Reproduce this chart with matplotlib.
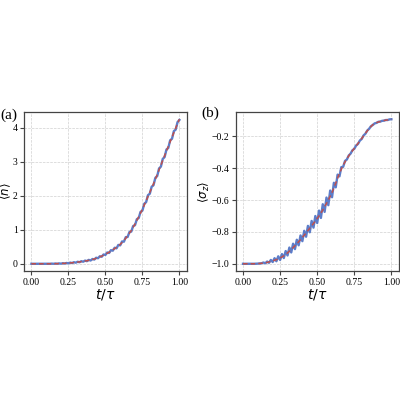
import matplotlib
matplotlib.use("Agg")
import matplotlib.pyplot as plt
import numpy as np

plt.rcParams['font.family'] = ['Liberation Serif', 'DejaVu Serif']
plt.rcParams['mathtext.fontset'] = 'dejavusans'

# time grids (t / tau)
t_fine = np.arange(81) * 0.0125
t_coarse = np.arange(41) * 0.025

# panel (a): <n>
n_exact = [0.000, 0.000, 0.000, 0.000, 0.000, 0.001, 0.002, 0.004, 0.008, 0.013,
           0.020, 0.030, 0.042, 0.056, 0.072, 0.090, 0.110, 0.140, 0.180, 0.225,
           0.280, 0.340, 0.410, 0.480, 0.570, 0.680, 0.820, 0.980, 1.170, 1.380,
           1.600, 1.850, 2.100, 2.350, 2.620, 2.900, 3.180, 3.450, 3.720, 3.990,
           4.250]
n_sim = [0.000, 0.000, 0.000, 0.000, 0.000, 0.000, 0.000, 0.000, 0.000, 0.001,
         0.000, 0.004, 0.000, 0.007, 0.001, 0.011, 0.003, 0.017, 0.006, 0.024,
         0.012, 0.034, 0.021, 0.046, 0.032, 0.060, 0.045, 0.076, 0.060, 0.094,
         0.077, 0.114, 0.096, 0.140, 0.124, 0.177, 0.163, 0.221, 0.206, 0.273,
         0.259, 0.333, 0.317, 0.400, 0.385, 0.472, 0.453, 0.554, 0.541, 0.656,
         0.649, 0.783, 0.787, 0.934, 0.946, 1.111, 1.134, 1.312, 1.343, 1.528,
         1.562, 1.764, 1.811, 2.015, 2.060, 2.266, 2.309, 2.527, 2.578, 2.803,
         2.857, 3.084, 3.136, 3.360, 3.405, 3.630, 3.675, 3.900, 3.945, 4.165,
         4.230]

# panel (b): <sigma_z>
sz_exact = [-1.000, -1.000, -1.000, -1.000, -0.999, -0.997, -0.994, -0.989, -0.982, -0.974,
            -0.964, -0.950, -0.932, -0.910, -0.887, -0.862, -0.835, -0.806, -0.777, -0.747,
            -0.716, -0.682, -0.642, -0.600, -0.552, -0.494, -0.432, -0.381, -0.340, -0.305,
            -0.275, -0.244, -0.213, -0.180, -0.150, -0.126, -0.113, -0.106, -0.100, -0.096,
            -0.092]
sz_sim = [-1.000, -1.000, -1.000, -1.000, -1.000, -1.000, -1.000, -0.9995, -0.999, -0.998,
          -0.997, -0.992, -0.997, -0.986, -0.994, -0.976, -0.989, -0.965, -0.984, -0.953,
          -0.976, -0.939, -0.964, -0.920, -0.948, -0.898, -0.929, -0.874, -0.908, -0.849,
          -0.884, -0.822, -0.858, -0.793, -0.830, -0.762, -0.802, -0.731, -0.773, -0.700,
          -0.744, -0.666, -0.712, -0.626, -0.674, -0.584, -0.632, -0.540, -0.582, -0.491,
          -0.520, -0.440, -0.451, -0.393, -0.391, -0.354, -0.345, -0.320, -0.308, -0.287,
          -0.278, -0.257, -0.247, -0.226, -0.216, -0.194, -0.183, -0.163, -0.152, -0.136,
          -0.128, -0.118, -0.115, -0.108, -0.107, -0.102, -0.101, -0.097, -0.097, -0.093,
          -0.092]

blue = '#4a6fc4'
red = '#c0504d'

fig = plt.figure(figsize=(4, 4), dpi=100)
ax1 = fig.add_axes([0.06, 0.3225, 0.407, 0.3975])
ax2 = fig.add_axes([0.589, 0.3225, 0.408, 0.3975])

panels = [(ax1, n_sim, n_exact, r'$\langle n \rangle$', -0.066),
          (ax2, sz_sim, sz_exact, r'$\langle \sigma_z \rangle$', -0.145)]

for ax, sim, exact, ylab, lab_x in panels:
    ax.plot(t_fine, sim, color=blue, lw=1.7, alpha=0.9)
    ax.plot(t_coarse, exact, color=red, lw=1.1, ls=(0, (3, 2)))
    ax.grid(True, color='#d0d0d0', ls='--', lw=0.5)
    ax.set_xticks([0.0, 0.25, 0.5, 0.75, 1.0])
    ax.set_xlabel(r'$t/\tau$', fontsize=10, labelpad=0)
    ax.set_ylabel(ylab, fontsize=8.5)
    ax.yaxis.set_label_coords(lab_x, 0.5)
    ax.tick_params(labelsize=7, length=3, width=0.8, pad=2, color='#444444')
    ax.tick_params(axis='y', pad=1.5)
    for s in ax.spines.values():
        s.set_color('#444444')
        s.set_linewidth(0.9)

ax1.set_yticks([0, 1, 2, 3, 4])
ax2.set_yticks([-1.0, -0.8, -0.6, -0.4, -0.2])

fig.text(0.002, 0.712, '(a)', fontsize=11, va='center', ha='left')
fig.text(0.503, 0.718, '(b)', fontsize=11, va='center', ha='left')

fig.savefig('out.png', dpi=100)
